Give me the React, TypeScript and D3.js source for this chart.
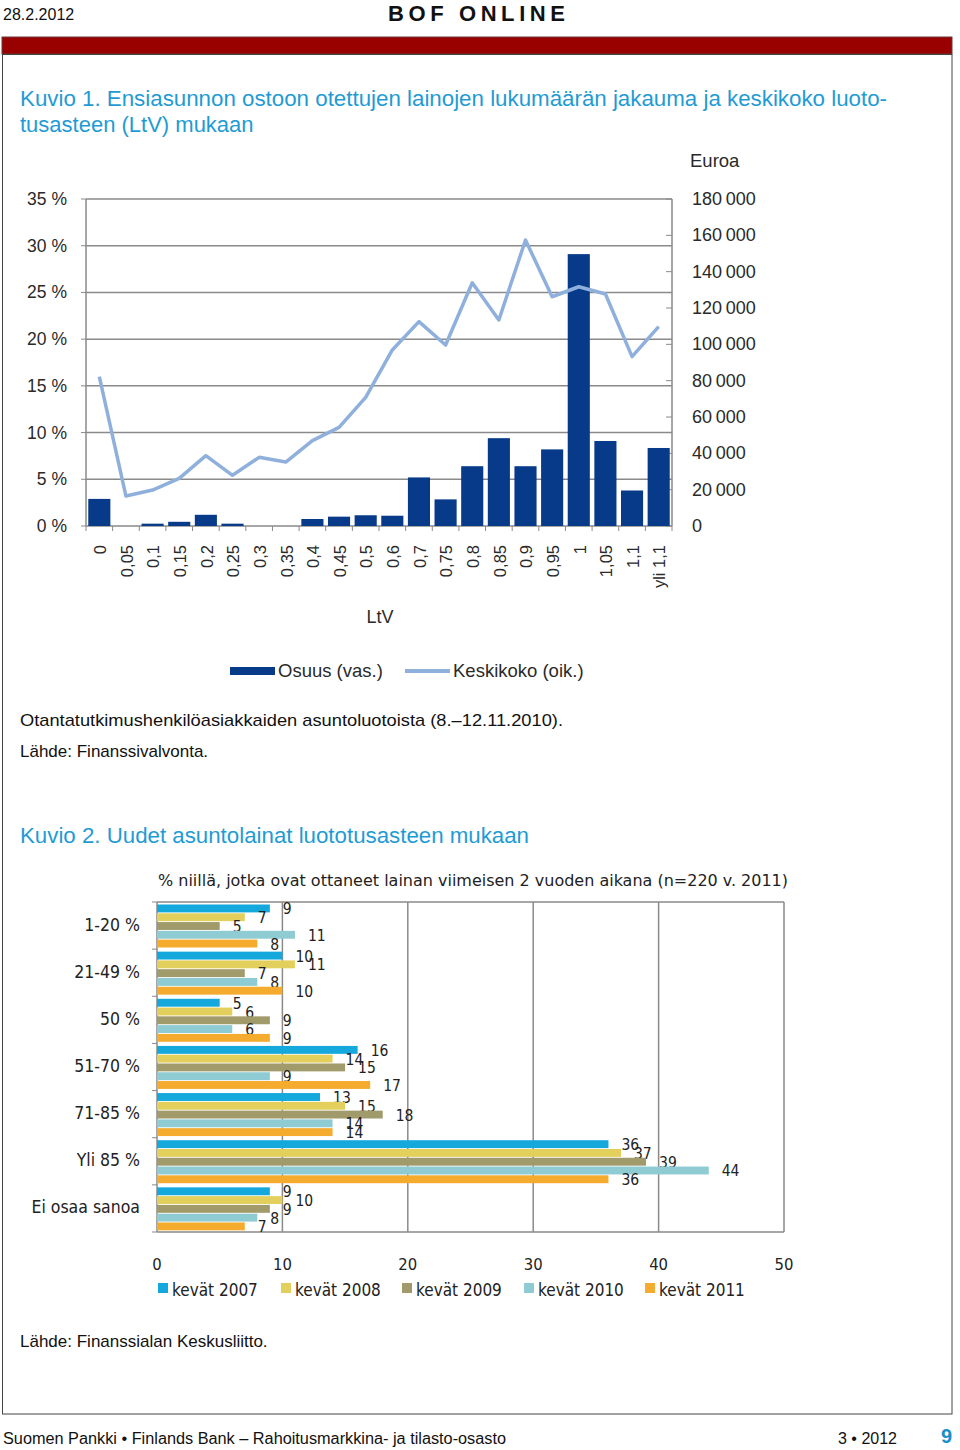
import React from "react";
import * as d3 from "d3";

// ---------- Chart 1 data ----------
const ltvCategories = ["0", "0,05", "0,1", "0,15", "0,2", "0,25", "0,3", "0,35", "0,4", "0,45", "0,5", "0,6", "0,7", "0,75", "0,8", "0,85", "0,9", "0,95", "1", "1,05", "1,1", "yli 1,1"];
const osuusPct = [2.9, 0, 0.25, 0.45, 1.2, 0.25, 0, 0, 0.75, 1.0, 1.15, 1.1, 5.2, 2.85, 6.4, 9.4, 6.4, 8.2, 29.1, 9.1, 3.8, 8.35];
const keskikokoEur = [82200, 16500, 19800, 26200, 38700, 27900, 37800, 35200, 47000, 54300, 70800, 96900, 112500, 99600, 133900, 113400, 157400, 126200, 131700, 127700, 93200, 109700];
const leftTicks = [0, 5, 10, 15, 20, 25, 30, 35];
const rightTicks = [0, 20000, 40000, 60000, 80000, 100000, 120000, 140000, 160000, 180000];

// ---------- Chart 2 data ----------
const ltvGroups = ["1-20 %", "21-49 %", "50 %", "51-70 %", "71-85 %", "Yli 85 %", "Ei osaa sanoa"];
const seriesNames = ["kevät 2007", "kevät 2008", "kevät 2009", "kevät 2010", "kevät 2011"];
const kevat2007 = [9, 10, 5, 16, 13, 36, 9];
const kevat2008 = [7, 11, 6, 14, 15, 37, 10];
const kevat2009 = [5, 7, 9, 15, 18, 39, 9];
const kevat2010 = [11, 8, 6, 9, 14, 44, 8];
const kevat2011 = [8, 10, 9, 17, 14, 36, 7];
const seriesValues = [kevat2007, kevat2008, kevat2009, kevat2010, kevat2011];
const seriesColors = ["#14a8dd", "#e3d05c", "#a19b6c", "#8ecbd3", "#f5ab2e"];
const bottomTicks = [0, 10, 20, 30, 40, 50];

const fmtThousands = (v: number) => {
  if (v === 0) return "0";
  const t = Math.floor(v / 1000);
  return `${t}\u2009000`;
};

export default function App() {
  const arial = "Arial, 'Liberation Sans', Helvetica, sans-serif";
  const tahoma = "'DejaVu Sans Condensed', 'DejaVu Sans', Verdana, sans-serif";
  const titleBlue = "#1f9bd4";
  const gridGrey = "#8a8a8a";

  // Chart 1 scales
  const x1 = d3.scaleBand<string>().domain(ltvCategories).range([86, 672]).paddingInner(0.17).paddingOuter(0.085);
  const yL = d3.scaleLinear().domain([0, 35]).range([526, 199]);
  const yR = d3.scaleLinear().domain([0, 180000]).range([526, 199]);
  const lineGen = d3
    .line<number>()
    .x((_, i) => (x1(ltvCategories[i]) as number) + x1.bandwidth() / 2)
    .y((d) => yR(d));
  const step1 = x1.step();

  // Chart 2 scales
  const x2 = d3.scaleLinear().domain([0, 50]).range([157, 784]);
  const y2 = d3.scaleBand<string>().domain(ltvGroups).range([902, 1232]);
  const yInner = d3.scaleBand<string>().domain(seriesNames).range([2.5, 45.5]).paddingInner(0.1);

  return (
    <svg width={960} height={1450} style={{ position: "absolute", left: 0, top: 0, background: "#fff" }}>
      {/* Header */}
      <text x={3} y={20} fontFamily={arial} fontSize={16} fill="#111">28.2.2012</text>
      <text x={388} y={21} fontFamily={arial} fontSize={22} fontWeight="bold" fill="#111" textLength={177} lengthAdjust="spacing">BOF ONLINE</text>
      <rect x={2} y={37} width={950} height={17} fill="#990000" stroke="#6b3a3a" strokeWidth={1} />
      <rect x={2.5} y={54.5} width={949.5} height={1359.5} fill="none" stroke="#444" strokeWidth={1} />

      {/* Chart 1 title */}
      <text x={20} y={106} fontFamily={arial} fontSize={22} fill={titleBlue} textLength={867} lengthAdjust="spacingAndGlyphs">
        Kuvio 1. Ensiasunnon ostoon otettujen lainojen lukumäärän jakauma ja keskikoko luoto-
      </text>
      <text x={20} y={132} fontFamily={arial} fontSize={22} fill={titleBlue}>tusasteen (LtV) mukaan</text>

      {/* Chart 1 gridlines */}
      {leftTicks.map((t) => (
        <line key={`g${t}`} x1={86} x2={672} y1={yL(t)} y2={yL(t)} stroke={gridGrey} strokeWidth={1.5} />
      ))}
      <line x1={86} x2={86} y1={199} y2={526} stroke={gridGrey} strokeWidth={1.5} />
      <line x1={672} x2={672} y1={199} y2={526} stroke={gridGrey} strokeWidth={1.5} />
      {rightTicks.map((t) => (
        <line key={`rt${t}`} x1={666} x2={672} y1={yR(t)} y2={yR(t)} stroke={gridGrey} strokeWidth={1} />
      ))}
      {ltvCategories.map((c, i) => (
        <line key={`xt${c}`} x1={86 + i * step1} x2={86 + i * step1} y1={526} y2={531} stroke={gridGrey} strokeWidth={1} />
      ))}
      <line x1={672} x2={672} y1={526} y2={531} stroke={gridGrey} strokeWidth={1} />
      {leftTicks.map((t) => (
        <line key={`lt${t}`} x1={81} x2={86} y1={yL(t)} y2={yL(t)} stroke={gridGrey} strokeWidth={1} />
      ))}

      {/* Bars */}
      {osuusPct.map((v, i) => (
        <rect
          key={`b${i}`}
          x={x1(ltvCategories[i])}
          y={yL(v)}
          width={x1.bandwidth()}
          height={526 - yL(v)}
          fill="#073b8a"
        />
      ))}
      {/* Line */}
      <path d={lineGen(keskikokoEur) || ""} fill="none" stroke="#8fb0dc" strokeWidth={3.5} strokeLinejoin="round" />

      {/* Left labels */}
      {leftTicks.map((t) => (
        <text key={`ll${t}`} x={67} y={yL(t) + 6} textAnchor="end" fontFamily={arial} fontSize={17.5} fill="#2a2a2a">
          {`${t} %`}
        </text>
      ))}
      {/* Right labels */}
      {rightTicks.map((t) => (
        <text key={`rl${t}`} x={692} y={yR(t) + 6} fontFamily={arial} fontSize={18} fill="#2a2a2a">
          {fmtThousands(t)}
        </text>
      ))}
      <text x={690} y={167} fontFamily={arial} fontSize={18.5} fill="#2a2a2a">Euroa</text>

      {/* X labels */}
      {ltvCategories.map((c) => (
        <text
          key={`xl${c}`}
          transform={`translate(${(x1(c) as number) + x1.bandwidth() / 2 + 1},545) rotate(-90)`}
          textAnchor="end"
          dy="0.35em"
          fontFamily={arial}
          fontSize={16.5}
          fill="#2a2a2a"
        >
          {c}
        </text>
      ))}
      <text x={380} y={623} textAnchor="middle" fontFamily={arial} fontSize={18} fill="#2a2a2a">LtV</text>

      {/* Legend 1 */}
      <rect x={230} y={667} width={45} height={8} fill="#073b8a" />
      <text x={278} y={677} fontFamily={arial} fontSize={18.5} fill="#2a2a2a">Osuus (vas.)</text>
      <line x1={405} x2={450} y1={671} y2={671} stroke="#8fb0dc" strokeWidth={4} />
      <text x={453} y={677} fontFamily={arial} fontSize={18.5} fill="#2a2a2a">Keskikoko (oik.)</text>

      {/* Notes */}
      <text x={20} y={726} fontFamily={arial} fontSize={17} fill="#111" textLength={543} lengthAdjust="spacingAndGlyphs">
        Otantatutkimushenkilöasiakkaiden asuntoluotoista (8.–12.11.2010).
      </text>
      <text x={20} y={757} fontFamily={arial} fontSize={17} fill="#111">Lähde: Finanssivalvonta.</text>

      {/* Chart 2 title */}
      <text x={20} y={843} fontFamily={arial} fontSize={22} fill={titleBlue} textLength={509} lengthAdjust="spacingAndGlyphs">
        Kuvio 2. Uudet asuntolainat luototusasteen mukaan
      </text>
      <text x={158} y={886} fontFamily={tahoma} fontSize={16.5} fill="#222" textLength={630} lengthAdjust="spacingAndGlyphs">
        % niillä, jotka ovat ottaneet lainan viimeisen 2 vuoden aikana (n=220 v. 2011)
      </text>

      {/* Chart 2 grid */}
      {bottomTicks.slice(1).map((t) => (
        <line key={`vg${t}`} x1={x2(t)} x2={x2(t)} y1={902} y2={1232} stroke={gridGrey} strokeWidth={1.5} />
      ))}
      <line x1={157} x2={784} y1={902} y2={902} stroke={gridGrey} strokeWidth={1.5} />
      <line x1={157} x2={784} y1={1232} y2={1232} stroke={gridGrey} strokeWidth={1.5} />
      <line x1={157} x2={157} y1={902} y2={1232} stroke={gridGrey} strokeWidth={1.5} />
      {ltvGroups.map((g) => (
        <line key={`gt${g}`} x1={152} x2={157} y1={y2(g)} y2={y2(g)} stroke={gridGrey} strokeWidth={1} />
      ))}
      <line x1={152} x2={157} y1={1232} y2={1232} stroke={gridGrey} strokeWidth={1} />

      {/* Chart 2 bars */}
      {ltvGroups.map((g, gi) =>
        seriesNames.map((s, si) => {
          const v = seriesValues[si][gi];
          const y = (y2(g) as number) + (yInner(s) as number);
          return (
            <g key={`hb${gi}-${si}`}>
              <rect x={157} y={y} width={x2(v) - x2(0)} height={yInner.bandwidth()} fill={seriesColors[si]} />
              <text x={x2(v) + 13} y={y + yInner.bandwidth() / 2 + 6} fontFamily={tahoma} fontSize={15.5} fill="#222">
                {v}
              </text>
            </g>
          );
        })
      )}

      {/* Chart 2 category labels */}
      {ltvGroups.map((g) => (
        <text key={`cl${g}`} x={140} y={(y2(g) as number) + y2.bandwidth() / 2 + 5} textAnchor="end" fontFamily={tahoma} fontSize={17.5} fill="#222">
          {g}
        </text>
      ))}

      {/* Chart 2 x ticks */}
      {bottomTicks.map((t) => (
        <text key={`bt${t}`} x={x2(t)} y={1270} textAnchor="middle" fontFamily={tahoma} fontSize={16.5} fill="#222">
          {t}
        </text>
      ))}

      {/* Chart 2 legend */}
      {seriesNames.map((s, i) => {
        const lx = [158, 281, 402, 524, 645][i];
        return (
          <g key={`lg${s}`}>
            <rect x={lx} y={1283} width={10} height={10} fill={seriesColors[i]} />
            <text x={lx + 14} y={1296} fontFamily={tahoma} fontSize={17} fill="#222">{s}</text>
          </g>
        );
      })}

      <text x={20} y={1347} fontFamily={arial} fontSize={17} fill="#111">Lähde: Finanssialan Keskusliitto.</text>

      {/* Footer */}
      <text x={3} y={1444} fontFamily={arial} fontSize={16} fill="#111" textLength={503} lengthAdjust="spacingAndGlyphs">
        Suomen Pankki • Finlands Bank – Rahoitusmarkkina- ja tilasto-osasto
      </text>
      <text x={838} y={1444} fontFamily={arial} fontSize={16} fill="#111">3 • 2012</text>
      <text x={941} y={1443} fontFamily={arial} fontSize={20} fontWeight="bold" fill="#1a8fc9">9</text>
    </svg>
  );
}
